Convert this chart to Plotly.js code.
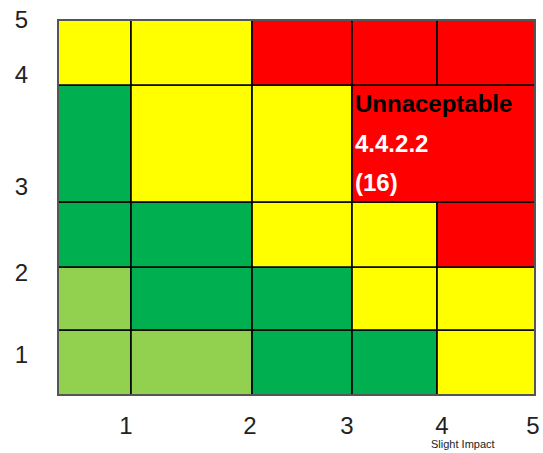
<!DOCTYPE html>
<html>
<head>
<meta charset="utf-8">
<script src="https://cdn.plot.ly/plotly-3.0.1.min.js"></script>
<style>
html,body{margin:0;padding:0;background:#fff;}
#chart{width:543px;height:453px;}
</style>
</head>
<body>
<div id="chart"></div>
<script>
// Grid edges (axis units) of the risk matrix
const colEdges = [0, 0.765, 2.034, 3.082, 3.973, 5];
const rowEdges = [0, 0.867, 1.707, 2.573, 4.133, 5];

// Cell colours, bottom row first, left column first
const cellColors = [
  ['lg', 'lg', 'g', 'g', 'y'],
  ['lg', 'g', 'g', 'y', 'y'],
  ['g', 'g', 'y', 'y', 'r'],
  ['g', 'y', 'y', 'r', 'r'],
  ['y', 'y', 'r', 'r', 'r']
];
// Merged cells: row index, first column, last column
const mergedCells = [{row: 3, from: 3, to: 4}];

const palette = {lg: '#92D050', g: '#00B050', y: '#FFFF00', r: '#FF0000'};

// Tick labels
const xTickVals = [0.713, 2.013, 3.029, 4.025, 4.979];
const xTickText = ['1', '2', '3', '4', '5'];
const yTickVals = [0.533, 1.627, 2.773, 4.267, 5.0];
const yTickText = ['1', '2', '3', '4', '5'];

// Cell label
const labelLines = ['Unnaceptable', '4.4.2.2', '(16)'];
const labelColors = ['#000000', '#FFFFFF', '#FFFFFF'];
const labelY = [3.893, 3.36, 2.84];
const axisTitle = 'Slight Impact';

const traces = [];
function addCell(r, c0, c1, key) {
  const x0 = colEdges[c0], x1 = colEdges[c1 + 1];
  const y0 = rowEdges[r], y1 = rowEdges[r + 1];
  traces.push({
    type: 'scatter', mode: 'lines',
    x: [x0, x1, x1, x0, x0], y: [y0, y0, y1, y1, y0],
    fill: 'toself', fillcolor: palette[key],
    line: {color: '#000000', width: 1.6},
    hoverinfo: 'skip', showlegend: false
  });
}
cellColors.forEach((row, r) => {
  let c = 0;
  while (c < row.length) {
    const m = mergedCells.find(mc => mc.row === r && mc.from === c);
    if (m) { addCell(r, m.from, m.to, row[c]); c = m.to + 1; }
    else { addCell(r, c, c, row[c]); c++; }
  }
});

const annotations = labelLines.map((t, i) => ({
  x: colEdges[3] + 0.01, y: labelY[i], xref: 'x', yref: 'y',
  xanchor: 'left', yanchor: 'middle', showarrow: false,
  text: '<b>' + t + '</b>',
  font: {family: 'Liberation Sans, Arial, sans-serif', size: 24, color: labelColors[i]}
}));
annotations.push({
  x: 4.25, y: -0.108, xref: 'x', yref: 'paper', xanchor: 'center', yanchor: 'top',
  showarrow: false, text: axisTitle,
  font: {family: 'Liberation Sans, Arial, sans-serif', size: 11, color: '#222'}
});

const tickFont = {family: 'Liberation Sans, Arial, sans-serif', size: 24, color: '#222'};
const layout = {
  width: 543, height: 453,
  margin: {l: 58, r: 8, t: 20, b: 58},
  paper_bgcolor: '#fff', plot_bgcolor: '#fff',
  showlegend: false,
  xaxis: {
    range: [0, 5], tickvals: xTickVals, ticktext: xTickText,
    showgrid: false, zeroline: false, showline: false,
    ticks: 'outside', ticklen: 9, tickcolor: 'rgba(0,0,0,0)',
    tickfont: tickFont, fixedrange: true
  },
  yaxis: {
    range: [0, 5], tickvals: yTickVals, ticktext: yTickText,
    showgrid: false, zeroline: false, showline: false,
    ticks: 'outside', ticklen: 24, tickcolor: 'rgba(0,0,0,0)',
    tickfont: tickFont, fixedrange: true
  },
  shapes: [{
    type: 'rect', xref: 'paper', yref: 'paper', x0: 0, x1: 1, y0: 0, y1: 1,
    line: {color: '#555', width: 2}
  }],
  annotations: annotations
};

Plotly.newPlot('chart', traces, layout, {displayModeBar: false, staticPlot: true});
</script>
</body>
</html>
